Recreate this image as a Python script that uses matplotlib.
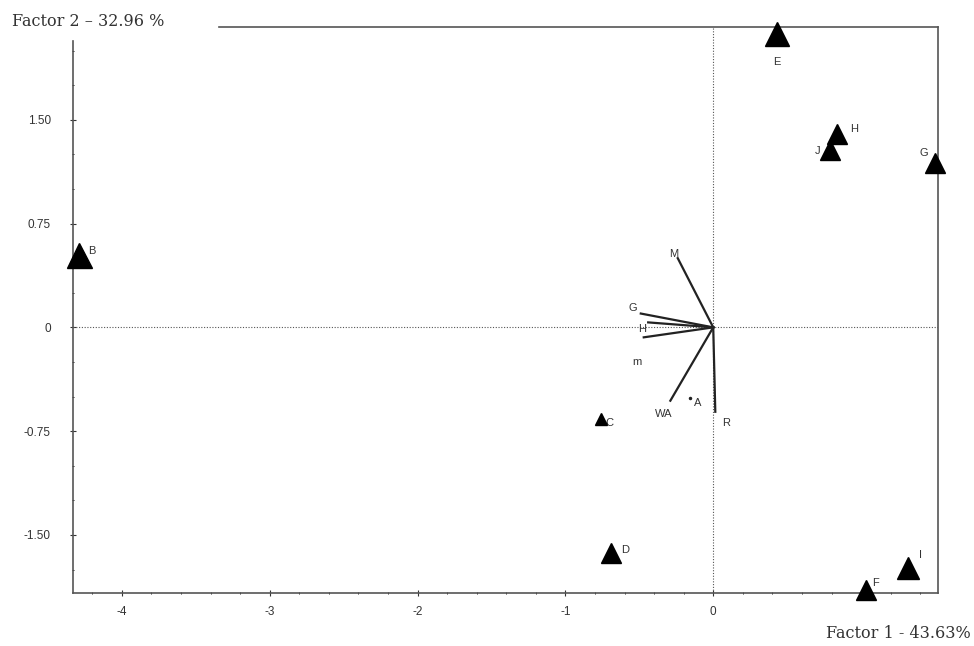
import matplotlib
matplotlib.use("Agg")
import matplotlib.pyplot as plt
from matplotlib.ticker import AutoMinorLocator

plt.rcParams["axes.unicode_minus"] = False

# sample scores (factor 1, factor 2)
obs_names = ["E", "H", "J", "G", "B", "C", "D", "I", "F"]
obs_f1 = [0.43, 0.84, 0.79, 1.50, -4.29, -0.76, -0.69, 1.32, 1.03]
obs_f2 = [2.12, 1.40, 1.28, 1.19, 0.52, -0.66, -1.63, -1.74, -1.90]
obs_size = [17, 14, 14, 15, 18, 8, 15, 16, 15]

# variable loadings
var_names = ["M", "G", "H", "m", "WA", "R"]
var_f1 = [-0.24, -0.49, -0.44, -0.47, -0.29, 0.014]
var_f2 = [0.50, 0.10, 0.036, -0.072, -0.53, -0.61]
dot_name = "A"
dot_xy = (-0.155, -0.51)

xticks = [-4, -3, -2, -1, 0]
yticks = [-1.50, -0.75, 0, 0.75, 1.50]
ytick_labels = ["-1.50", "-0.75", "0", "0.75", "1.50"]

# label offsets in points for each sample
obs_off = {"E": (0, -22), "H": (12, 1), "J": (-9, -3), "G": (-8, 5),
           "B": (9, 1), "C": (6, -5), "D": (10, 0), "I": (9, 7), "F": (7, 3)}
var_off = {"M": (-6, 1), "G": (-9, 2), "H": (-7, -7), "m": (-8, -20),
           "WA": (-11, -12), "R": (5, -10)}


def _main():
    fig = plt.figure(figsize=(9.74, 6.46), dpi=100)
    ax = fig.add_axes([0.075, 0.082, 0.888, 0.876])
    ax.set_xlim(-4.33, 1.52)
    ax.set_ylim(-1.92, 2.17)

    ax.axhline(0, color="#555555", lw=0.8, ls=(0, (1, 1.5)))
    ax.axvline(0, color="#555555", lw=0.8, ls=(0, (1, 1.5)))

    for n, x, y in zip(var_names, var_f1, var_f2):
        ax.plot([0, x], [0, y], color="#222222", lw=1.6)
        ax.annotate(n, (x, y), xytext=var_off[n], textcoords="offset points",
                    fontsize=8, family="Liberation Sans", color="#333333")
    ax.plot(*dot_xy, marker=".", color="#222222", ms=3)
    ax.annotate(dot_name, dot_xy, xytext=(3, -6), textcoords="offset points",
                fontsize=8, family="Liberation Sans", color="#333333")

    for n, x, y, s in zip(obs_names, obs_f1, obs_f2, obs_size):
        ax.plot(x, y, marker="^", color="black", ms=s, ls="none",
                clip_on=False, zorder=5)
        ax.annotate(n, (x, y), xytext=obs_off[n], textcoords="offset points",
                    fontsize=8, family="Liberation Sans", color="#333333",
                    ha="center")

    ax.set_xticks(xticks)
    ax.set_yticks(yticks)
    ax.set_yticklabels(ytick_labels)
    ax.xaxis.set_minor_locator(AutoMinorLocator(5))
    ax.yaxis.set_minor_locator(AutoMinorLocator(3))
    ax.tick_params(which="major", direction="inout", length=4, width=0.8,
                   labelsize=8.5, colors="#333333")
    ax.tick_params(axis="y", which="major", pad=14)
    ax.tick_params(axis="x", which="major", pad=7)
    ax.tick_params(which="minor", direction="inout", length=2, width=0.6)
    for lab in ax.get_xticklabels() + ax.get_yticklabels():
        lab.set_family("Liberation Sans")

    for sp in ax.spines.values():
        sp.set_color("#555555")
        sp.set_linewidth(1.2)
    ax.spines["top"].set_bounds(-3.34, 1.52)
    ax.spines["left"].set_bounds(-1.92, 2.07)

    fig.text(0.012, 0.966, "Factor 2 \u2013 32.96 %", fontsize=11.5,
             family="DejaVu Serif", color="#333333", va="center")
    fig.text(0.997, 0.02, "Factor 1 - 43.63%", fontsize=11.5,
             family="DejaVu Serif", color="#333333", ha="right",
             va="center")

    fig.savefig("out.png", dpi=100)
    plt.close(fig)
    return 0


if __name__ == "__main__":
    _main()
